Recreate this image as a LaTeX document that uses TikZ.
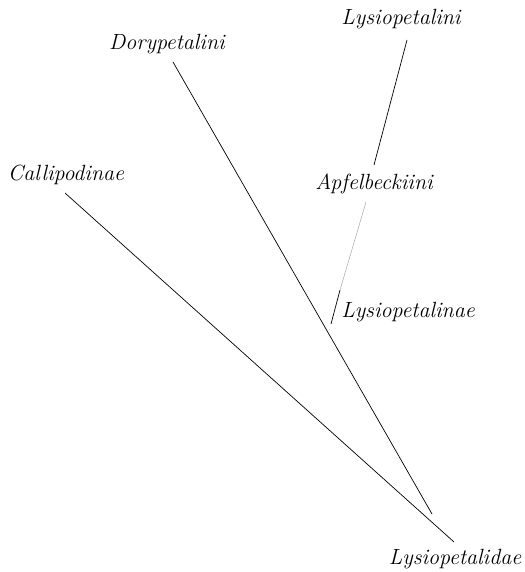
\documentclass[tikz,border=0pt]{standalone}
\usepackage{tikz}
\usetikzlibrary{positioning}

\begin{document}
\begin{tikzpicture}[x=0.5pt,y=-0.5pt,
    taxon/.style={inner sep=0pt, font=\fontsize{11}{13}\selectfont\itshape},
    branch/.style={line width=0.35pt},
    faint/.style={line width=0.3pt, black!30}]
  \useasboundingbox (0,0) rectangle (524,572);
  % labels
  \node[taxon] (lysini) at (401,19) {Lysiopetalini};
  \node[taxon] (dory) at (167,44) {Dorypetalini};
  \node[taxon] (calli) at (66,175) {Callipodinae};
  \node[taxon] (apfel) at (374,184) {Apfelbeckiini};
  \node[taxon] (lysinae) at (408,312) {Lysiopetalinae};
  \node[taxon] (lysidae) at (455,559) {Lysiopetalidae};
  % branch ends
  \coordinate (lysini-end) at (407,40);
  \coordinate (apfel-top) at (374,165);
  \coordinate (apfel-bot) at (366,202);
  \coordinate (lysinae-mid) at (340,290);
  \coordinate (lysinae-end) at (331,324);
  \coordinate (dory-start) at (173,62);
  \coordinate (dory-end) at (432,514);
  \coordinate (calli-start) at (65,193);
  \coordinate (calli-end) at (454,542);
  % branches
  \draw[branch] (lysini-end) -- (apfel-top);
  \draw[faint] (apfel-bot) -- (lysinae-mid);
  \draw[branch] (lysinae-mid) -- (lysinae-end);
  \draw[branch] (dory-start) -- (dory-end);
  \draw[branch] (calli-start) -- (calli-end);
\end{tikzpicture}
\end{document}
